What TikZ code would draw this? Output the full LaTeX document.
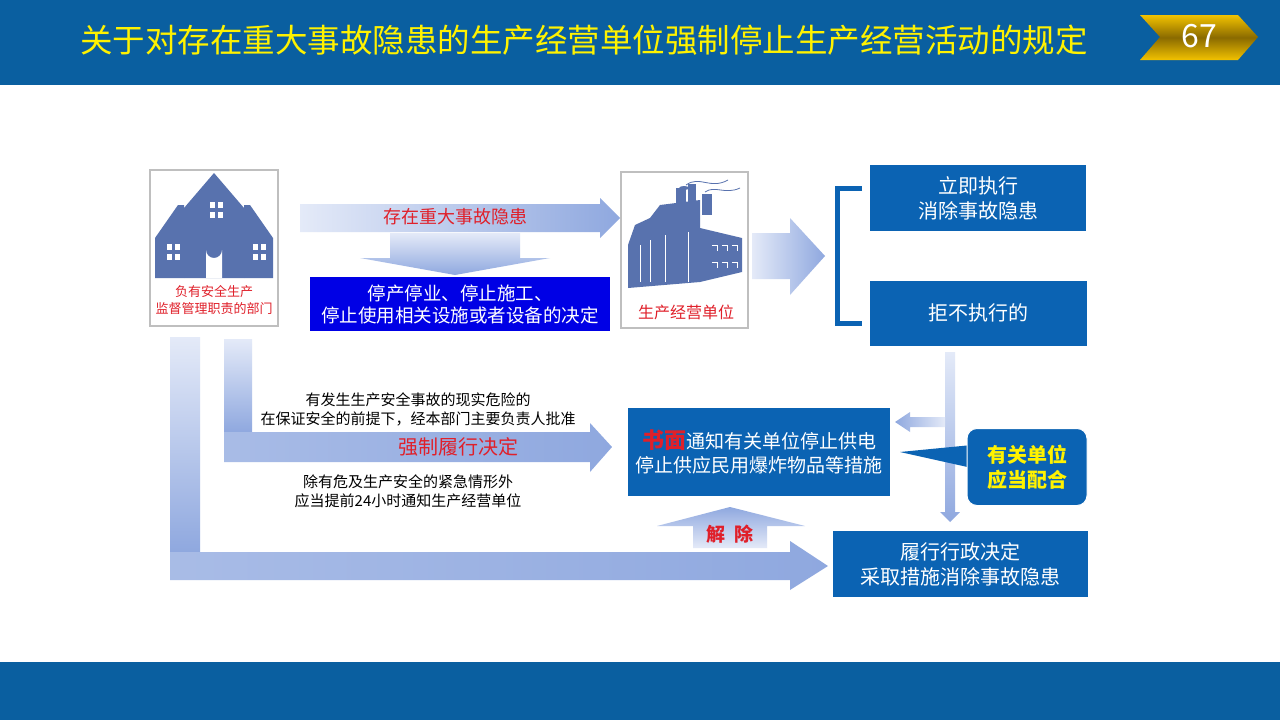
\documentclass[tikz,border=0pt]{standalone}
\usepackage{fontspec}
\setmainfont{Noto Sans CJK SC}
\usetikzlibrary{shapes.geometric}
\definecolor{hdr}{HTML}{0A5FA0}
\definecolor{bx}{HTML}{0B63B3}
\definecolor{ar}{HTML}{8FA8DF}
\definecolor{arl}{HTML}{E4EAF8}
\definecolor{ic}{HTML}{5872AE}
\definecolor{rd}{HTML}{E0202A}
\definecolor{gd}{HTML}{F2C200}
\definecolor{gdd}{HTML}{8A6A00}
\tikzset{
  bluebox/.style={fill=bx,text=white,inner sep=0,font=\fontsize{20}{25}\selectfont,align=center},
  icobox/.style={draw=black!25,line width=1.5pt,fill=white},
  lbl/.style={font=\fontsize{15}{19}\selectfont,align=center,text=black}
}
\begin{document}
\begin{tikzpicture}[x=1pt,y=-1pt]
\useasboundingbox (0,0) rectangle (1280,720);
\fill[white] (0,0) rectangle (1280,720);
\fill[hdr] (0,0) rectangle (1280,85);
\fill[hdr] (0,662) rectangle (1280,720);
\node[text=yellow,font=\fontsize{32.5}{34}\selectfont,anchor=west,inner sep=0] (title) at (80,40) {关于对存在重大事故隐患的生产经营单位强制停止生产经营活动的规定};
\shade[top color=gd,bottom color=gd,middle color=gdd] (1140,15) -- (1238,15) -- (1258,37) -- (1238,60) -- (1140,60) -- (1160,37) -- cycle;
\node[text=white,font=\fontsize{32}{34}\selectfont] (pg) at (1199,36) {67};
% house
\draw[icobox] (150,170) rectangle (278,326);
\fill[ic] (214,173) -- (250,215) -- (244,215) -- (244,278) -- (184,278) -- (184,215) -- (178,215) -- cycle;
\fill[ic] (155,238) -- (178,205) -- (184,205) -- (184,278) -- (155,278) -- cycle;
\fill[ic] (273,238) -- (250,205) -- (244,205) -- (244,278) -- (273,278) -- cycle;
\fill[white] (206,278) -- (206,250) arc (180:0:8) -- (222,278) -- cycle;
\foreach \x/\y in {210/202,210/212,218/202,218/212,167/244,175/244,167/254,175/254,253/244,261/244,253/254,261/254}
  \fill[white] (\x,\y) rectangle ++(5,6);
\node[text=rd,font=\fontsize{13}{17}\selectfont,align=center] (dept) at (214,300) {负有安全生产\\监督管理职责的部门};
% factory
\draw[icobox] (621,172) rectangle (748,328);
\fill[ic] (628,288) -- (700,282) -- (742,272) -- (742,238) -- (700,228) -- (700,200) -- (660,205) -- (650,218) -- (635,225) -- (628,245) -- cycle;
\fill[ic] (676,188) rectangle (686,210);
\fill[ic] (688,184) rectangle (696,205);
\fill[ic] (702,194) rectangle (712,215);
\fill[ic] (684,188) ellipse (5 and 2);
\draw[ic,line width=0.8pt] (686,185) .. controls (700,175) and (710,190) .. (728,180);
\draw[ic,line width=0.8pt] (705,192) .. controls (715,185) and (725,195) .. (740,188);
\foreach \x in {712,722,732} {\draw[white,line width=1pt] (\x,245) -- ++(5,0) -- ++(0,6); \draw[white,line width=1pt] (\x,262) -- ++(5,0) -- ++(0,6);}
\draw[white,line width=1pt] (640,245) -- (640,282) (650,240) -- (650,282) (665,235) -- (665,282) (688,232) -- (688,282);
\node[text=rd,font=\fontsize{16}{17}\selectfont] (unit) at (686,312) {生产经营单位};
% arrow 1
\shade[left color=arl,right color=ar] (300,204) -- (600,204) -- (600,198) -- (620,218) -- (600,238) -- (600,232) -- (300,232) -- cycle;
\node[text=rd,font=\fontsize{18}{19}\selectfont] (hz) at (455,217) {存在重大事故隐患};
\shade[top color=arl,bottom color=ar] (390,233) -- (520,233) -- (520,258) -- (550,258) -- (455,275) -- (360,258) -- (390,258) -- cycle;
\node[fill=blue!90!black,text=white,minimum width=300,minimum height=54,inner sep=0,font=\fontsize{18.5}{22}\selectfont,align=center] (stop) at (460,304) {停产停业、停止施工、\\停止使用相关设施或者设备的决定};
% arrow 3
\shade[left color=arl,right color=ar] (752,233) -- (790,233) -- (790,218) -- (825,256) -- (790,295) -- (790,279) -- (752,279) -- cycle;
\draw[bx,line width=5pt] (862,188) -- (837,188) -- (837,323) -- (862,323);
\node[bluebox,minimum width=216,minimum height=66] (imm) at (978,198) {立即执行\\消除事故隐患};
\node[bluebox,minimum width=217,minimum height=65] (ref) at (978,313) {拒不执行的};
% vertical thin arrow
\shade[top color=arl,bottom color=ar] (945,352) -- (955,352) -- (955,512) -- (960,512) -- (950,522) -- (940,512) -- (945,512) -- cycle;
\shade[right color=arl,left color=ar] (945,417) -- (910,417) -- (910,412) -- (895,422) -- (910,432) -- (910,427) -- (945,427) -- cycle;
\node[bluebox,minimum width=262,minimum height=88,font=\fontsize{19}{24}\selectfont] (wr) at (759,452) {{\color{rd}\fontsize{22}{24}\selectfont\bfseries 书面}通知有关单位停止供电\\停止供应民用爆炸物品等措施};
% callout
\fill[bx] (900,452) -- (972,445) -- (972,468) -- cycle;
\node[fill=bx,rounded corners=10pt,draw=white,line width=1pt,minimum width=120,minimum height=77,text=yellow,font=\fontsize{20}{25}\selectfont\bfseries,align=center] (coop) at (1027,467) {有关单位\\应当配合};
\node[bluebox,minimum width=255,minimum height=66] (exec) at (960,564) {履行行政决定\\采取措施消除事故隐患};
% L arrows
\shade[top color=arl,bottom color=ar] (170,337) -- (200,337) -- (200,552) -- (170,552) -- cycle;
\shade[left color=ar!70!arl,right color=ar] (170,552) -- (790,552) -- (790,541) -- (828,566) -- (790,590) -- (790,580) -- (170,580) -- cycle;
\shade[top color=arl,bottom color=ar] (224,339) -- (252,339) -- (252,432) -- (224,432) -- cycle;
\shade[left color=ar!70!arl,right color=ar] (224,432) -- (590,432) -- (590,423) -- (612,447) -- (590,472) -- (590,462) -- (224,462) -- cycle;
\node[lbl] (t1) at (418,409) {有发生生产安全事故的现实危险的\\在保证安全的前提下，经本部门主要负责人批准};
\node[text=rd,font=\fontsize{20}{21}\selectfont] (force) at (458,447) {强制履行决定};
\node[lbl] (t2) at (408,491) {除有危及生产安全的紧急情形外\\应当提前24小时通知生产经营单位};
% release
\shade[bottom color=arl,top color=ar] (693,548) -- (767,548) -- (767,526) -- (805,526) -- (730,507) -- (657,526) -- (693,526) -- cycle;
\node[text=rd,font=\fontsize{19}{20}\selectfont\bfseries] (rel) at (730,534) {解\ \ 除};
\end{tikzpicture}
\end{document}
